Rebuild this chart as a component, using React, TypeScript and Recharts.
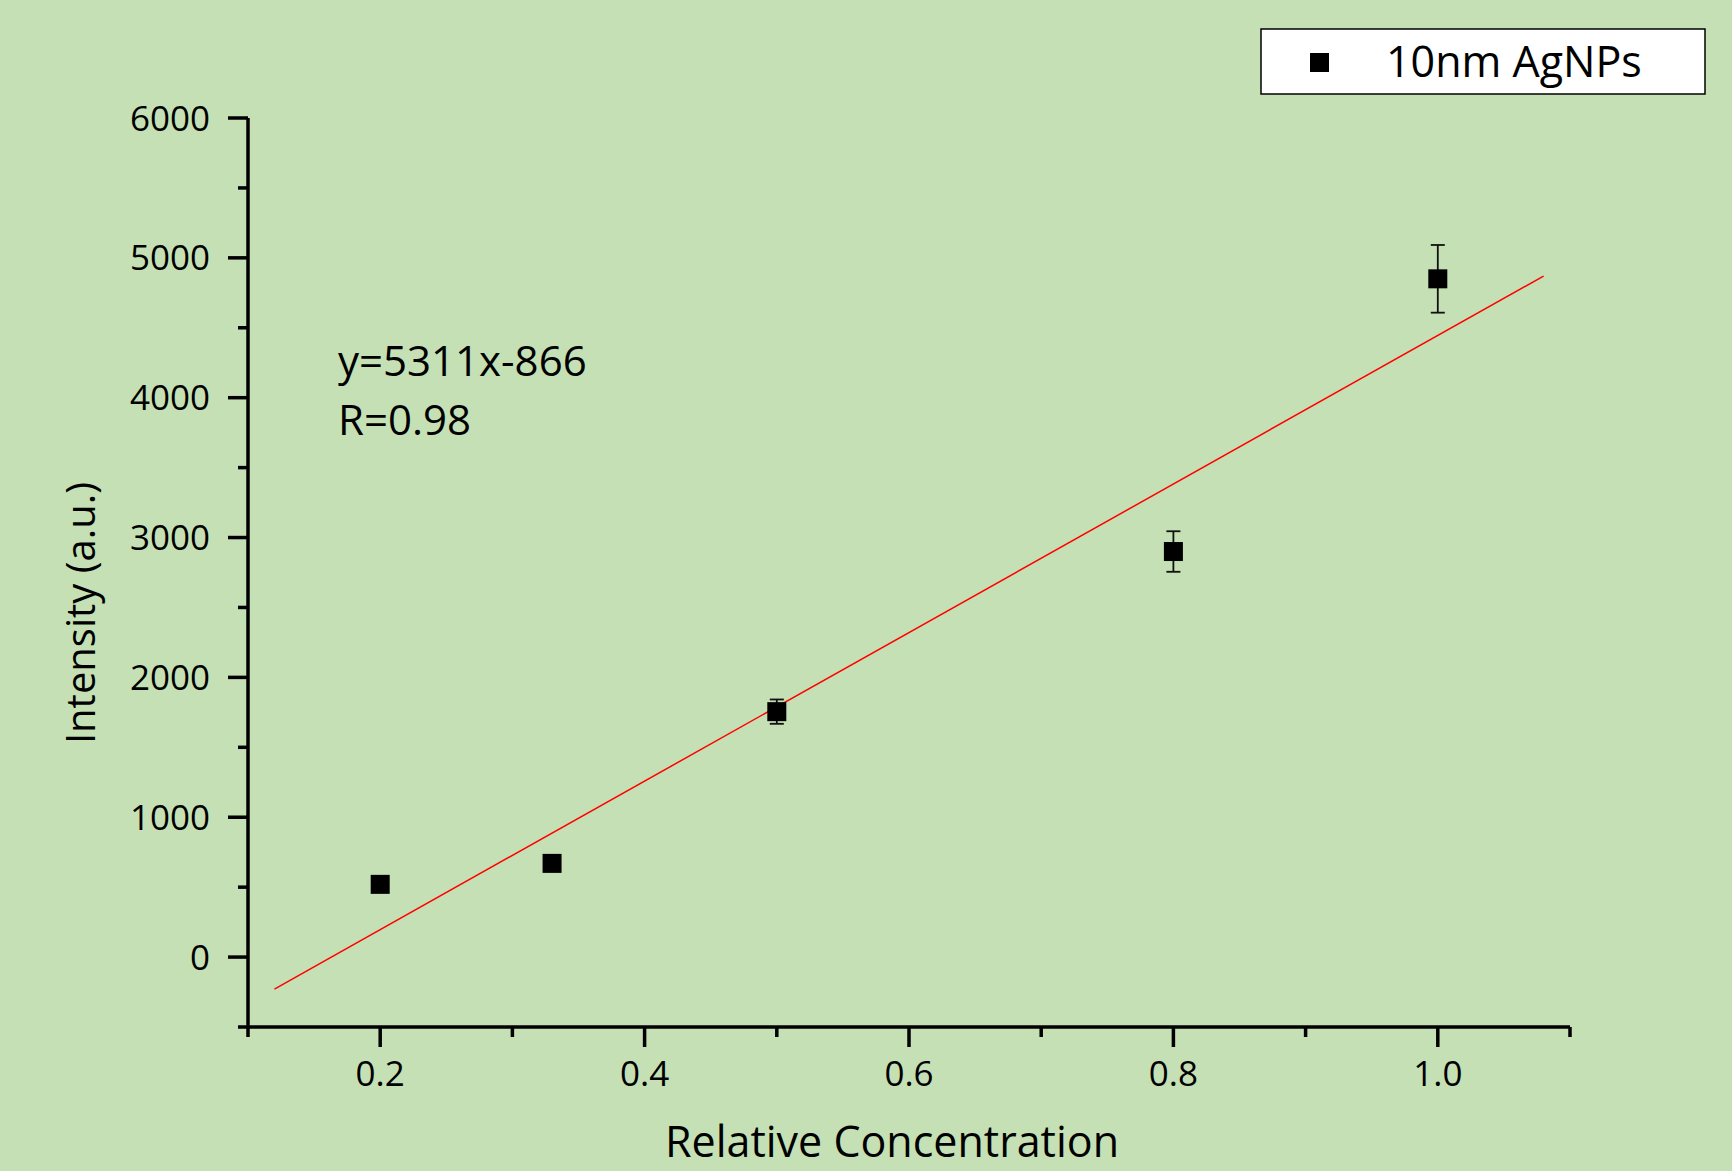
import React from 'react';
import { ComposedChart, XAxis, YAxis, Scatter, Line, ErrorBar, Customized } from 'recharts';

const concentrations = [0.2, 0.33, 0.5, 0.8, 1.0];
const intensities = [520, 670, 1755, 2900, 4850];
const errors = [30, 30, 87, 145, 242];

const xTicks = [0.1, 0.2, 0.3, 0.4, 0.5, 0.6, 0.7, 0.8, 0.9, 1.0, 1.1];
const xLabelTicks = [0.2, 0.4, 0.6, 0.8, 1.0];
const yTicks = [-500, 0, 500, 1000, 1500, 2000, 2500, 3000, 3500, 4000, 4500, 5000, 5500, 6000];
const yLabelTicks = [0, 1000, 2000, 3000, 4000, 5000, 6000];

const fitSlope = 5311;
const fitIntercept = -866;
const fitRange = [0.12, 1.08];

const seriesName = '10nm AgNPs';
const equationText = 'y=5311x-866';
const rText = 'R=0.98';

const points = concentrations.map((x, i) => ({ x, y: intensities[i], err: errors[i] }));
const fitLine = fitRange.map((x) => ({ x, y: fitSlope * x + fitIntercept }));

const BG = '#c5e0b4';
const FONT = '"Open Sans", "Noto Sans", sans-serif';

const isLabel = (v: number, list: number[]) => list.some((t) => Math.abs(t - v) < 1e-6);

const XTick = (props: any) => {
  const { x, y, payload } = props;
  const major = isLabel(payload.value, xLabelTicks);
  return (
    <g>
      <line x1={x} y1={y} x2={x} y2={y + (major ? 20 : 10)} stroke="#000" strokeWidth={3.5} />
      {major && (
        <text x={x} y={y + 59} textAnchor="middle" fontFamily={FONT} fontSize={35} fill="#000">
          {payload.value.toFixed(1)}
        </text>
      )}
    </g>
  );
};

const YTick = (props: any) => {
  const { x, y, payload } = props;
  const major = isLabel(payload.value, yLabelTicks);
  return (
    <g>
      <line x1={x} y1={y} x2={x - (major ? 20 : 10)} y2={y} stroke="#000" strokeWidth={3.5} />
      {major && (
        <text x={x - 38} y={y + 12.5} textAnchor="end" fontFamily={FONT} fontSize={35} fill="#000">
          {payload.value}
        </text>
      )}
    </g>
  );
};

const SquareShape = (props: any) => {
  const { cx, cy } = props;
  return <rect x={cx - 9.5} y={cy - 9.5} width={19} height={19} fill="#000" />;
};

const LegendAndText = () => (
  <g>
    <g transform="translate(1260,28)">
      <rect x={1} y={1} width={444} height={65} fill="#fff" stroke="#000" strokeWidth={1.5} />
      <rect x={50} y={25} width={19} height={19} fill="#000" />
      <text x={126} y={49} fontFamily={FONT} fontSize={43} fill="#000">
        {seriesName}
      </text>
    </g>
    <text x={338} y={376} fontFamily={FONT} fontSize={42} fill="#000">
      {equationText}
    </text>
    <text x={338} y={435} fontFamily={FONT} fontSize={42} fill="#000">
      {rText}
    </text>
    <text x={892} y={1157} textAnchor="middle" fontFamily={FONT} fontSize={43} fill="#000">
      Relative Concentration
    </text>
    <text
      x={0}
      y={0}
      transform="translate(95,613) rotate(-90)"
      textAnchor="middle"
      fontFamily={FONT}
      fontSize={40}
      fill="#000"
    >
      Intensity (a.u.)
    </text>
  </g>
);

export default function App() {
  return (
    <div style={{ position: 'fixed', left: 0, top: 0, width: 1732, height: 1171, background: BG }}>
      <ComposedChart
        width={1732}
        height={1171}
        margin={{ top: 118, right: 162, bottom: 44, left: 148 }}
        style={{ background: BG }}
      >
        <XAxis
          type="number"
          dataKey="x"
          domain={[0.1, 1.1]}
          ticks={xTicks}
          interval={0}
          allowDataOverflow
          height={100}
          tickSize={0}
          tickMargin={0}
          tickLine={false}
          axisLine={{ stroke: '#000', strokeWidth: 3.5 }}
          tick={<XTick />}
        />
        <YAxis
          type="number"
          dataKey="y"
          domain={[-500, 6000]}
          ticks={yTicks}
          interval={0}
          allowDataOverflow
          width={100}
          tickSize={0}
          tickMargin={0}
          tickLine={false}
          axisLine={{ stroke: '#000', strokeWidth: 3.5 }}
          tick={<YTick />}
        />
        <Line
          data={fitLine}
          dataKey="y"
          type="linear"
          stroke="#ff0000"
          strokeWidth={1.5}
          dot={false}
          activeDot={false}
          isAnimationActive={false}
          legendType="none"
        />
        <Scatter
          data={points}
          dataKey="y"
          name={seriesName}
          fill="#000"
          shape={<SquareShape />}
          isAnimationActive={false}
        >
          <ErrorBar dataKey="err" direction="y" width={7} stroke="#111" strokeWidth={1.8} isAnimationActive={false} />
        </Scatter>
        <Customized component={<LegendAndText />} />
      </ComposedChart>
    </div>
  );
}
